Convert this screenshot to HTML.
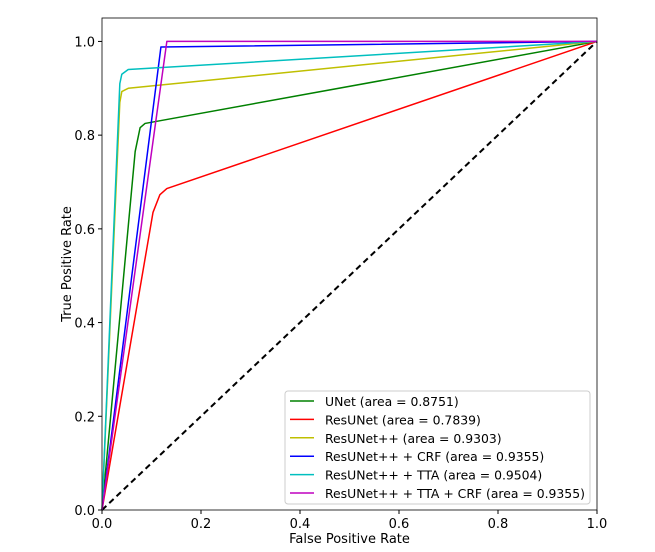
<!DOCTYPE html>
<html><head><meta charset="utf-8"><style>
body{margin:0;background:#fff}
svg{display:block;font-family:"DejaVu Sans","Liberation Sans",sans-serif}
</style></head><body>
<svg id="chart" width="655" height="552">
<g id="plot"></g>
</svg>
<script>
const xTicks=[0,0.2,0.4,0.6,0.8,1.0];
const yTicks=[0,0.2,0.4,0.6,0.8,1.0];
const tickLabels=["0.0","0.2","0.4","0.6","0.8","1.0"];
const seriesNames=["UNet (area = 0.8751)","ResUNet (area = 0.7839)","ResUNet++ (area = 0.9303)","ResUNet++ + CRF (area = 0.9355)","ResUNet++ + TTA (area = 0.9504)","ResUNet++ + TTA + CRF (area = 0.9355)"];
const seriesColors=["#008000","#ff0000","#bfbf00","#0000ff","#00bfbf","#bf00bf"];
const unetFpr=[0,0.067,0.077,0.087,1];
const unetTpr=[0,0.765,0.816,0.825,1];
const resunetFpr=[0,0.103,0.117,0.131,1];
const resunetTpr=[0,0.635,0.673,0.686,1];
const resppFpr=[0,0.036,0.04,0.053,1];
const resppTpr=[0,0.87,0.893,0.9,1];
const crfFpr=[0,0.119,1];
const crfTpr=[0,0.988,1];
const ttaFpr=[0,0.036,0.04,0.053,1];
const ttaTpr=[0,0.91,0.93,0.94,1];
const ttacrfFpr=[0,0.131,1];
const ttacrfTpr=[0,1.0,1];
const series=[[unetFpr,unetTpr],[resunetFpr,resunetTpr],[resppFpr,resppTpr],[crfFpr,crfTpr],[ttaFpr,ttaTpr],[ttacrfFpr,ttacrfTpr]];
const X0=102,X1=597,YB=510,YT=18,YMAX=1.05;
const sx=v=>X0+v*(X1-X0);
const sy=v=>YB-v/YMAX*(YB-YT);
const NS="http://www.w3.org/2000/svg";
const g=document.getElementById('plot');
function mk(t,a,txt){const e=document.createElementNS(NS,t);for(const k in a)e.setAttribute(k,a[k]);if(txt!==undefined)e.textContent=txt;g.appendChild(e);return e;}
let d=mk('line',{x1:sx(0),y1:sy(0),x2:sx(1),y2:sy(1),stroke:'#000','stroke-width':2,'stroke-dasharray':'6,4'});


series.forEach((s,i)=>{
  const pts=s[0].map((x,j)=>sx(x)+','+sy(s[1][j])).join(' ');
  const p=mk('polyline',{points:pts,fill:'none',stroke:seriesColors[i],'stroke-width':1.5,'stroke-linejoin':'round'});
  
  
});
let f=mk('rect',{x:X0,y:YT,width:X1-X0,height:YB-YT,fill:'none',stroke:'#000','stroke-width':0.8});


xTicks.forEach((v,i)=>{
  mk('line',{x1:sx(v),y1:YB,x2:sx(v),y2:YB+4,stroke:'#000'});
  const t=mk('text',{x:sx(v),y:YB+18,'text-anchor':'middle','font-size':13},tickLabels[i]);
  
  
});
yTicks.forEach((v,i)=>{
  mk('line',{x1:X0-4,y1:sy(v),x2:X0,y2:sy(v),stroke:'#000'});
  const t=mk('text',{x:X0-7,y:sy(v)+5,'text-anchor':'end','font-size':13},tickLabels[i]);
  
  
});
let xt=mk('text',{x:(X0+X1)/2,y:543,'text-anchor':'middle','font-size':13},'False Positive Rate');


let yt=mk('text',{x:0,y:0,'text-anchor':'middle','font-size':13,transform:'translate(71,264) rotate(-90)'},'True Positive Rate');


let lb=mk('rect',{x:285,y:391,width:305,height:113,rx:3,fill:'#fff','fill-opacity':0.85,stroke:'#ccc'});


seriesNames.forEach((n,i)=>{
  const y=401+i*18.4;
  mk('line',{x1:290,y1:y,x2:314,y2:y,stroke:seriesColors[i],'stroke-width':1.5});
  const t=mk('text',{x:325,y:y+5,'font-size':12.4},n);
  
  
});
</script>
</body></html>
